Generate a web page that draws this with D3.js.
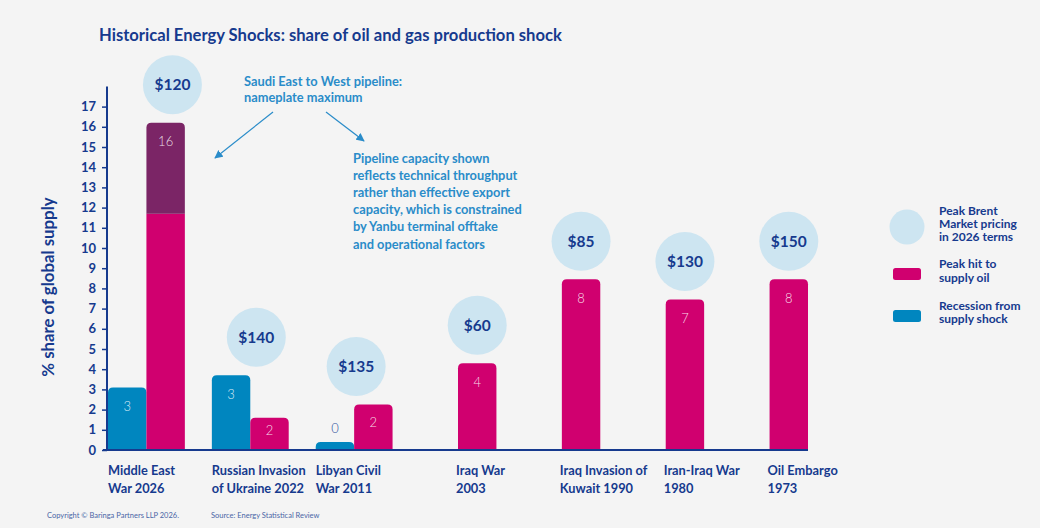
<!DOCTYPE html>
<html>
<head>
<meta charset="utf-8">
<script src="https://cdn.jsdelivr.net/npm/d3@7"></script>
<style>
  html, body { margin: 0; padding: 0; background: #f4f4f4; }
  svg { display: block; font-family: Lato, "Noto Sans", sans-serif; }
</style>
</head>
<body>
<script>
// categories (two-line tick labels)
const categories = [
    ["Middle East", "War 2026"],
    ["Russian Invasion", "of Ukraine 2022"],
    ["Libyan Civil", "War 2011"],
    ["Iraq War", "2003"],
    ["Iraq Invasion of", "Kuwait 1990"],
    ["Iran-Iraq War", "1980"],
    ["Oil Embargo", "1973"]
];
// % share of global supply
const recession = [3.1, 3.7, 0.4, null, null, null, null];
const oilHit = [11.7, 1.6, 2.25, 4.3, 8.45, 7.45, 8.45];
const pipelineExtra = [4.5, 0, 0, 0, 0, 0, 0];   // nameplate pipeline part on top
const recessionLabels = ["3", "3", "0", null, null, null, null];
const oilLabels = ["16", "2", "2", "4", "8", "7", "8"];
const brentPrice = ["$120", "$140", "$135", "$60", "$85", "$130", "$150"];
const yTicks = d3.range(0, 18);

const NAVY = "#163a8e", PINK = "#d0006f", PLUM = "#7b2566", BLUE = "#0086bf",
      BUBBLE = "#cde5f1", NOTE = "#2a8cc9";

const W = 1040, H = 528;
const svg = d3.select("body").append("svg").attr("width", W).attr("height", H);

const x = d3.scaleBand().domain(d3.range(categories.length))
    .range([108, 808]).paddingInner(0.26).paddingOuter(0);
const xi = d3.scaleBand().domain(["recession", "oil"]).range([0, x.bandwidth()]);
const y = d3.scaleLinear().domain([0, 18]).range([450, 86.4]);

// title
svg.append("text").attr("x", 99).attr("y", 41)
    .attr("fill", NAVY).attr("font-size", 16.6).attr("font-weight", 700)
    .text("Historical Energy Shocks: share of oil and gas production shock");

// rounded-top bar
function topRounded(x0, y0, w, h, r) {
    r = Math.min(r, h, w / 2);
    return `M${x0},${y0 + h}V${y0 + r}Q${x0},${y0} ${x0 + r},${y0}H${x0 + w - r}Q${x0 + w},${y0} ${x0 + w},${y0 + r}V${y0 + h}Z`;
}

const g = svg.append("g");

// bubbles (Peak Brent pricing)
const bubbleNudge = [26, 6, 2, 0, 0, 0, 0];
categories.forEach((c, i) => {
    const top = Math.max(recession[i] || 0, oilHit[i] + pipelineExtra[i]);
    const cx = (recession[i] == null ? x(i) + xi("oil") + xi.bandwidth() / 2 : x(i) + x.bandwidth() / 2) + bubbleNudge[i];
    const cy = y(top) - 38;
    g.append("circle").attr("cx", cx).attr("cy", cy).attr("r", 29.5).attr("fill", BUBBLE);
    g.append("text").attr("x", cx).attr("y", cy + 5.5).attr("text-anchor", "middle")
        .attr("fill", NAVY).attr("font-size", 15.5).attr("font-weight", 700).text(brentPrice[i]);
});

function valueLabel(cx, top, h, txt) {
    g.append("text").attr("x", cx).attr("y", top + Math.min(19, h * 0.4) + 4.5)
        .attr("text-anchor", "middle").attr("fill", "#fff").attr("fill-opacity", 0.85)
        .attr("font-size", 13).attr("font-weight", 300).text(txt);
}

categories.forEach((c, i) => {
    const bw = xi.bandwidth();
    if (recession[i] != null) {
        const bx = x(i) + xi("recession");
        const top = y(recession[i]), h = y(0) - top;
        g.append("path").attr("d", topRounded(bx, top, bw, h, 5)).attr("fill", BLUE);
        if (h > 20) valueLabel(bx + bw / 2, top, h, recessionLabels[i]);
        else g.append("text").attr("x", bx + bw / 2).attr("y", top - 9)
            .attr("text-anchor", "middle").attr("fill", "#2f4f9c")
            .attr("font-size", 13).attr("font-weight", 300).text(recessionLabels[i]);
    }
    const bx = x(i) + xi("oil");
    const base = y(oilHit[i]);
    if (pipelineExtra[i] > 0) {
        g.append("rect").attr("x", bx).attr("y", base).attr("width", bw)
            .attr("height", y(0) - base).attr("fill", PINK);
        const top = y(oilHit[i] + pipelineExtra[i]);
        g.append("path").attr("d", topRounded(bx, top, bw, base - top, 5)).attr("fill", PLUM);
        valueLabel(bx + bw / 2, top, base - top, oilLabels[i]);
    } else {
        const h = y(0) - base;
        g.append("path").attr("d", topRounded(bx, base, bw, h, 5)).attr("fill", PINK);
        valueLabel(bx + bw / 2, base, h, oilLabels[i]);
    }
});

// y axis
const yAxis = svg.append("g").attr("transform", "translate(107,0)")
    .call(d3.axisLeft(y).tickValues(yTicks).tickSize(5).tickPadding(6).tickFormat(d3.format("d")));
yAxis.select(".domain").attr("stroke", NAVY).attr("stroke-width", 2).attr("d", `M0,${y(18)}V${y(0)}`);
yAxis.selectAll(".tick line").attr("stroke", NAVY).attr("stroke-width", 1.5);
yAxis.selectAll(".tick text").attr("fill", NAVY).attr("font-size", 13).attr("font-weight", 700)
    .attr("font-family", "Lato, sans-serif");

svg.append("text").attr("transform", "translate(54,287) rotate(-90)")
    .attr("text-anchor", "middle").attr("fill", NAVY).attr("font-size", 16.8).attr("font-weight", 700)
    .text("% share of global supply");

// x axis
const xAxis = svg.append("g").attr("transform", `translate(0,${y(0)})`)
    .call(d3.axisBottom(x).tickSize(0).tickFormat(""));
xAxis.select(".domain").attr("stroke", NAVY).attr("stroke-width", 2).attr("d", "M103,0H808");

categories.forEach((c, i) => {
    const lx = recession[i] == null ? x(i) + xi("oil") - 2 : x(i);
    const t = svg.append("text").attr("x", lx).attr("y", 475)
        .attr("fill", NAVY).attr("font-size", 12.8).attr("font-weight", 700);
    c.forEach((line, k) => t.append("tspan").attr("x", lx).attr("dy", k ? 18 : 0).text(line));
});

// annotations
const defs = svg.append("defs");
defs.append("marker").attr("id", "arr").attr("viewBox", "0 0 10 10")
    .attr("refX", 9).attr("refY", 5).attr("markerWidth", 7).attr("markerHeight", 7)
    .attr("orient", "auto")
    .append("path").attr("d", "M0,0L10,5L0,10Z").attr("fill", NOTE);

function noteBlock(x0, y0, lh, lines) {
    const t = svg.append("text").attr("x", x0).attr("y", y0)
        .attr("fill", NOTE).attr("font-size", 12.8).attr("font-weight", 700);
    lines.forEach((line, k) => t.append("tspan").attr("x", x0).attr("dy", k ? lh : 0).text(line));
}
noteBlock(244, 85.5, 16.8, ["Saudi East to West pipeline:", "nameplate maximum"]);
noteBlock(353, 162.5, 17.2, ["Pipeline capacity shown", "reflects technical throughput",
    "rather than effective export", "capacity, which is constrained",
    "by Yanbu terminal offtake", "and operational factors"]);
svg.append("line").attr("x1", 273).attr("y1", 112).attr("x2", 215).attr("y2", 158)
    .attr("stroke", NOTE).attr("stroke-width", 1.2).attr("marker-end", "url(#arr)");
svg.append("line").attr("x1", 326).attr("y1", 112).attr("x2", 364).attr("y2", 141)
    .attr("stroke", NOTE).attr("stroke-width", 1.2).attr("marker-end", "url(#arr)");

// legend
const lg = svg.append("g");
function legendText(x0, y0, lh, lines) {
    const t = lg.append("text").attr("x", x0).attr("y", y0)
        .attr("fill", NAVY).attr("font-size", 12).attr("font-weight", 700);
    lines.forEach((line, k) => t.append("tspan").attr("x", x0).attr("dy", k ? lh : 0).text(line));
}
lg.append("circle").attr("cx", 907).attr("cy", 227).attr("r", 17.5).attr("fill", BUBBLE);
legendText(939, 214.5, 13.4, ["Peak Brent", "Market pricing", "in 2026 terms"]);
lg.append("rect").attr("x", 893).attr("y", 268).attr("width", 28).attr("height", 12).attr("rx", 2.5).attr("fill", PINK);
legendText(939, 267.5, 14.3, ["Peak hit to", "supply oil"]);
lg.append("rect").attr("x", 893).attr("y", 310).attr("width", 28).attr("height", 12).attr("rx", 2.5).attr("fill", BLUE);
legendText(939, 310, 13.4, ["Recession from", "supply shock"]);

// footer
svg.append("text").attr("x", 47).attr("y", 518).attr("fill", "#4a66a6").attr("font-size", 7.5)
    .text("Copyright \u00a9 Baringa Partners LLP 2026.");
svg.append("text").attr("x", 211).attr("y", 518).attr("fill", "#4a66a6").attr("font-size", 7.5)
    .text("Source: Energy Statistical Review");
</script>
</body>
</html>
